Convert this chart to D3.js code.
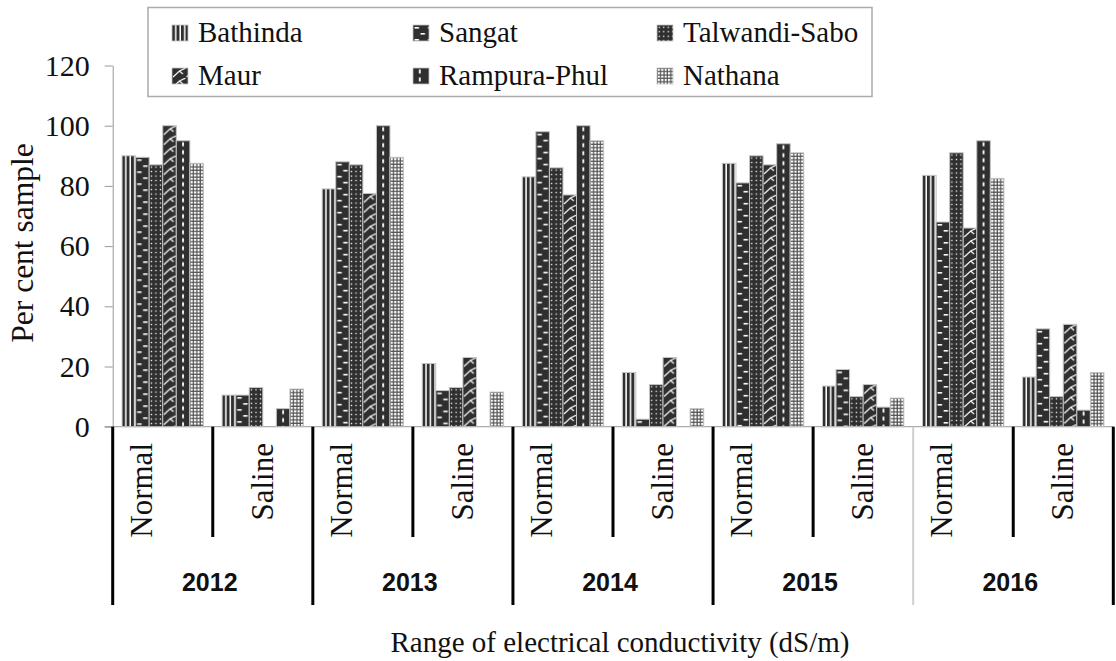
<!DOCTYPE html>
<html><head><meta charset="utf-8">
<script src="https://cdn.jsdelivr.net/npm/d3@7/dist/d3.min.js"></script>
<style>html,body{margin:0;padding:0;background:#fff;}</style>
</head><body>
<script>
const years = ["2012","2013","2014","2015","2016"];
const ranges = ["Normal","Saline"];
const series = ["Bathinda","Sangat","Talwandi-Sabo","Maur","Rampura-Phul","Nathana"];
const yTicks = [0,20,40,60,80,100,120];
// values per series, order: 2012 Normal, 2012 Saline, 2013 Normal, 2013 Saline, ...
const bathinda = [90, 10.5, 79, 21, 83, 18, 87.5, 13.5, 83.5, 16.5];
const sangat   = [89.5, 10.5, 88, 12, 98, 2.5, 81, 19, 68, 32.5];
const talwandi = [87, 13, 87, 13, 86, 14, 90, 10, 91, 10];
const maur     = [100, 0, 77.5, 23, 77, 23, 87, 14, 66, 34];
const rampura  = [95, 6, 100, 0, 100, 0, 94, 6.5, 95, 5.5];
const nathana  = [87.5, 12.5, 89.5, 11.5, 95, 6, 91, 9.5, 82.5, 18];
const seriesValues = [bathinda, sangat, talwandi, maur, rampura, nathana];

(function () {
const W = 1116, H = 661;
const pLeft = 112.7, pRight = 1113.3, pTop = 65.5, base = 426.7;
const serif = "'Liberation Serif','Times New Roman',serif";
const sans = "'Liberation Sans',Arial,sans-serif";
const dark = "#2f2f2f";

const cats = [];
years.forEach(y => ranges.forEach(r => cats.push(y + "|" + r)));

const svg = d3.select("body").append("svg").attr("width", W).attr("height", H);
const defs = svg.append("defs");

const x0 = d3.scaleBand().domain(cats).range([pLeft, pRight]).paddingInner(0).paddingOuter(0);
const x1 = d3.scaleBand().domain(series).range([0, x0.bandwidth()]).paddingInner(0).paddingOuter(0.69);
const y = d3.scaleLinear().domain([0, 120]).range([base, pTop]);
const bw = x1.bandwidth();

function pat(id, w, h, bg) {
  const p = defs.append("pattern").attr("id", id).attr("patternUnits", "userSpaceOnUse")
    .attr("width", w).attr("height", h);
  p.append("rect").attr("width", w).attr("height", h).attr("fill", bg);
  return p;
}
let p;
p = pat("p0", 4.5, 10, "#fff");
p.append("rect").attr("x", 0).attr("y", 0).attr("width", 3).attr("height", 10).attr("fill", dark);
p = pat("p1", bw, 12, dark);
p.append("rect").attr("x", 1.5).attr("y", 2).attr("width", 4.5).attr("height", 1.6).attr("fill", "#fff");
p.append("rect").attr("x", 7.5).attr("y", 8).attr("width", 4.5).attr("height", 1.6).attr("fill", "#fff");
p = pat("p2", 4.5, 4.5, dark);
p.append("rect").attr("x", 1.6).attr("y", 1.6).attr("width", 1.3).attr("height", 1.3).attr("fill", "#fff");
p = pat("p3", bw, 10, dark);
p.append("path").attr("d", `M1,9 L${bw*0.55},3 L${bw*0.8},6 M${bw*0.55},3 L${bw},0`).attr("stroke", "#fff").attr("stroke-width", 1.2).attr("fill", "none");
p = pat("p4", bw, 8, dark);
p.append("rect").attr("x", bw/2 - 0.9).attr("y", 1.5).attr("width", 1.8).attr("height", 4).attr("fill", "#fff");
p = pat("p5", 3.4, 3.4, "#505050");
p.append("rect").attr("x", 0.8).attr("y", 0.8).attr("width", 2.2).attr("height", 2.2).attr("fill", "#fff");

// y axis
const yAxis = d3.axisLeft(y).tickValues(yTicks).tickSize(8).tickSizeOuter(0).tickPadding(15);
const ga = svg.append("g").attr("transform", `translate(${pLeft},0)`).call(yAxis);
ga.attr("font-family", serif);
ga.select(".domain").attr("stroke", "#999");
ga.selectAll(".tick line").attr("stroke", "#999");
ga.selectAll(".tick text").attr("font-family", serif).attr("font-size", 30).attr("fill", "#111");

svg.append("line").attr("x1", pLeft - 8).attr("x2", pRight).attr("y1", base).attr("y2", base)
  .attr("stroke", "#999").attr("stroke-width", 1);

// bars
const data = [];
cats.forEach((c, ci) => series.forEach((s, si) => {
  const v = seriesValues[si][ci];
  if (v > 0) data.push({c, s, si, v});
}));
const bars = svg.append("g").selectAll("g").data(data).join("g")
  .attr("transform", d => `translate(${x0(d.c) + x1(d.s)},${y(d.v)})`);
bars.append("rect").attr("width", bw).attr("height", d => base - y(d.v))
  .attr("fill", d => `url(#p${d.si})`).attr("stroke", "#c4c4c4").attr("stroke-width", 1);

// separators
const bwc = x0.bandwidth();
for (let i = 0; i <= cats.length; i++) {
  const xx = pLeft + i * bwc;
  const isYear = i % 2 === 0;
  svg.append("line").attr("x1", xx).attr("x2", xx).attr("y1", base).attr("y2", isYear ? 605 : 537)
    .attr("stroke", i === 8 ? "#cfcfcf" : "#000").attr("stroke-width", i === 8 ? 2 : 3);
}

cats.forEach(c => {
  const r = c.split("|")[1];
  const cx = x0(c) + bwc / 2 + (r === "Normal" ? -11 : 10);
  svg.append("text").attr("transform", `translate(${cx},443) rotate(-90)`)
    .attr("text-anchor", "end").attr("font-family", serif).attr("font-size", 31).attr("fill", "#111")
    .text(r);
});
years.forEach((yr, i) => {
  const cx = pLeft + (2 * i + 1) * bwc - 3;
  svg.append("text").attr("x", cx).attr("y", 591).attr("text-anchor", "middle")
    .attr("font-family", sans).attr("font-weight", "bold").attr("font-size", 25).attr("fill", "#111").text(yr);
});

svg.append("text").attr("x", 620).attr("y", 651.5).attr("text-anchor", "middle")
  .attr("font-family", serif).attr("font-size", 29).attr("fill", "#111")
  .text("Range of electrical conductivity (dS/m)");
svg.append("text").attr("transform", "translate(33,243) rotate(-90)").attr("text-anchor", "middle")
  .attr("font-family", serif).attr("font-size", 31.5).attr("fill", "#111").text("Per cent sample");

// legend
svg.append("rect").attr("x", 148).attr("y", 7.5).attr("width", 724).attr("height", 89)
  .attr("fill", "#fff").attr("stroke", "#aaa").attr("stroke-width", 1.5);
const colX = [172, 413, 657];
const rowY = [42, 85];
series.forEach((s, i) => {
  const col = i % 3, row = Math.floor(i / 3);
  const sx = colX[col], by = rowY[row];
  const g = svg.append("g").attr("transform", `translate(${sx},${by - 17})`);
  g.append("rect").attr("width", 16).attr("height", 16).attr("fill", `url(#p${i})`)
    .attr("stroke", "#c4c4c4").attr("stroke-width", 0.8);
  svg.append("text").attr("x", sx + 26).attr("y", by).attr("font-family", serif)
    .attr("font-size", 29).attr("fill", "#111").text(s);
});
})();
</script>
</body></html>
